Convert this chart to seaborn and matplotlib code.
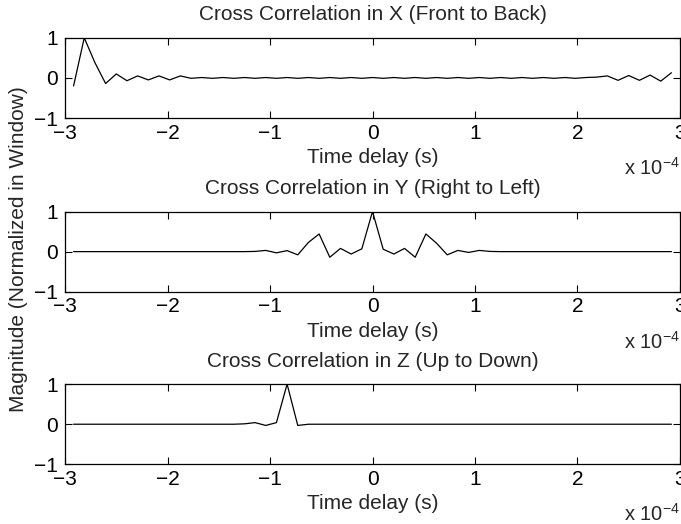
import numpy as np
import pandas as pd
import matplotlib
matplotlib.use("Agg")
import matplotlib.pyplot as plt
import seaborn as sns
from matplotlib.ticker import FuncFormatter, FixedLocator

# ---------------- data ----------------
fs = 96000.0
lags = list(range(-28, 29))  # sample lags

corr_x = [-0.20, 1.00, 0.38, -0.14, 0.10, -0.07, 0.05, -0.05, 0.05, -0.05,
          0.05, -0.01, 0.01, -0.01, 0.01, -0.01, 0.01, -0.01, 0.01, -0.01,
          0.01, -0.01, 0.01, -0.01, 0.01, -0.01, 0.01, -0.01, 0.01, -0.01,
          0.01, -0.01, 0.01, -0.01, 0.01, -0.01, 0.01, -0.01, 0.01, -0.01,
          0.01, -0.01, 0.01, -0.01, 0.01, -0.01, 0.01, -0.01, 0.01, 0.02,
          0.05, -0.06, 0.06, -0.06, 0.07, -0.08, 0.13]

corr_y = [0.0] * 17 + [0.005, 0.03, -0.03, 0.025, -0.08, 0.23, 0.44, -0.14,
                       0.08, -0.06, 0.07, 1.00, 0.06, -0.06, 0.08, -0.14,
                       0.44, 0.21, -0.08, 0.03, -0.02, 0.03, 0.005] + [0.0] * 17

corr_z = [0.0] * 16 + [0.01, 0.04, -0.03, 0.04, 1.00, -0.03, 0.0] + [0.0] * 34

titles = ["Cross Correlation in X (Front to Back)",
          "Cross Correlation in Y (Right to Left)",
          "Cross Correlation in Z (Up to Down)"]
xticks = [-3e-4, -2e-4, -1e-4, 0, 1e-4, 2e-4, 3e-4]
yticks = [-1, 0, 1]
xlabel = "Time delay (s)"
ylabel = "Magnitude (Normalized in Window)"

# ---------------- style ----------------
sns.set_style("ticks")
plt.rcParams["font.family"] = ["Liberation Sans", "DejaVu Sans"]
plt.rcParams["mathtext.fontset"] = "custom"
plt.rcParams["mathtext.rm"] = "Liberation Sans"
plt.rcParams["mathtext.it"] = "Liberation Sans"
plt.rcParams["axes.unicode_minus"] = True

FS = 15
fig = plt.figure(figsize=(6.81, 5.24), dpi=100)

bottoms = [0.7748, 0.4433, 0.1139]
height = 0.153
left, width = 0.0955, 0.903

series = [corr_x, corr_y, corr_z]
for i, (vals, ttl, b) in enumerate(zip(series, titles, bottoms)):
    ax = fig.add_axes([left, b, width, height])
    df = pd.DataFrame({"t": np.array(lags) / fs, "v": vals})
    sns.lineplot(data=df, x="t", y="v", ax=ax, color="black", linewidth=0.9)
    ax.set_xlim(-3e-4, 3e-4)
    ax.set_ylim(-1, 1)
    ax.xaxis.set_major_locator(FixedLocator(xticks))
    ax.yaxis.set_major_locator(FixedLocator(yticks))
    ax.xaxis.set_major_formatter(FuncFormatter(
        lambda v, p: ("%d" % round(v * 1e4)).replace("-", "\u2212")))
    ax.yaxis.set_major_formatter(FuncFormatter(
        lambda v, p: ("%d" % round(v)).replace("-", "\u2212")))
    ax.tick_params(direction="in", top=True, right=True, length=5,
                   width=0.8, labelsize=FS, pad=5, colors="black")
    ax.tick_params(axis="x", pad=4)
    for s in ax.spines.values():
        s.set_linewidth(0.9)
        s.set_color("black")
    ax.set_title(ttl, fontsize=FS, pad=12.5)
    ax.set_xlabel(xlabel, fontsize=FS, labelpad=4)
    ax.set_ylabel("")
    ax.text(1.0, -0.62, r"x 10$^{-4}$", transform=ax.transAxes,
            fontsize=FS - 0.5, ha="right", va="center", clip_on=False)

fig.text(0.027, 0.525, ylabel, rotation=90, ha="center", va="center",
         fontsize=FS)

fig.savefig("out.png", dpi=100)
